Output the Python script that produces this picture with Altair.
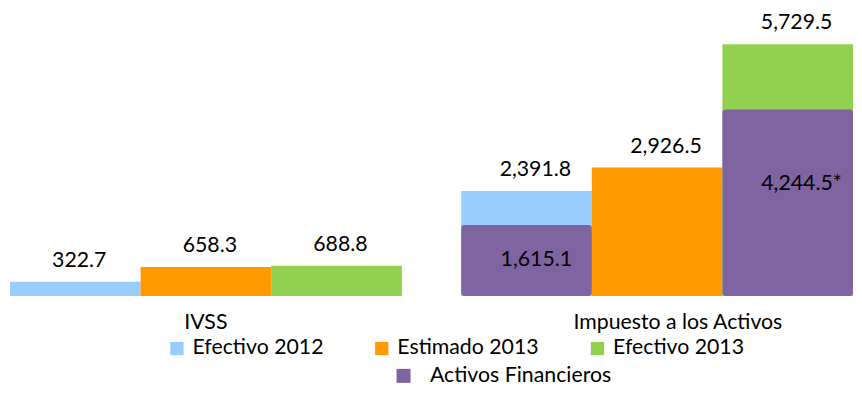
import altair as alt
import pandas as pd

categorias = ["IVSS", "Impuesto a los Activos"]
series = ["Efectivo 2012", "Estimado 2013", "Efectivo 2013"]
valores_ivss = [322.7, 658.3, 688.8]
valores_impuesto = [2391.8, 2926.5, 5729.5]
activos_nombre = "Activos Financieros"
activos_slots = ["Efectivo 2012", "Efectivo 2013"]
activos_valores = [1615.1, 4244.5]
activos_etiquetas = ["1,615.1", "4,244.5*"]
colores = ["#99CCFF", "#FF9900", "#92D050"]
color_activos = "#8064A2"

FONT = "Lato"
FS = 21.5

rows = []
for cat, vals in zip(categorias, [valores_ivss, valores_impuesto]):
    for s, v in zip(series, vals):
        rows.append({"categoria": cat, "slot": s, "serie": s, "valor": v, "etiqueta": f"{v:,.1f}"})
df_main = pd.DataFrame(rows)

df_act = pd.DataFrame({
    "categoria": ["Impuesto a los Activos"] * len(activos_valores),
    "slot": activos_slots,
    "grupo": [activos_nombre] * len(activos_valores),
    "valor": activos_valores,
    "etiqueta": activos_etiquetas,
})
df_cat = pd.DataFrame({"categoria": categorias})

x_enc = alt.X("categoria:N", sort=categorias, axis=None,
              scale=alt.Scale(domain=categorias, paddingInner=0.1316, paddingOuter=0))
xo_enc = alt.XOffset("slot:N", sort=series, scale=alt.Scale(domain=series, paddingInner=0, paddingOuter=0))
y_scale = alt.Scale(domain=[0, 6510])

bars = alt.Chart(df_main).mark_bar().encode(
    x=x_enc, xOffset=xo_enc,
    y=alt.Y("valor:Q", scale=y_scale, axis=None, stack=None),
    color=alt.Color("serie:N", scale=alt.Scale(domain=series, range=colores),
                    legend=alt.Legend(orient="none", legendX=158, legendY=331, direction="horizontal",
                                      title=None, symbolType="square", symbolSize=180,
                                      symbolStrokeWidth=0, labelFont=FONT, labelFontSize=FS,
                                      labelColor="black", labelOffset=5, columnPadding=48,
                                      labelLimit=400)),
)

bars_act = alt.Chart(df_act).mark_bar(cornerRadius=3).encode(
    x=x_enc, xOffset=xo_enc,
    y=alt.Y("valor:Q", scale=y_scale, axis=None, stack=None),
    color=alt.Color("grupo:N", scale=alt.Scale(domain=[activos_nombre], range=[color_activos]),
                    legend=alt.Legend(orient="none", legendX=387, legendY=359, direction="horizontal",
                                      title=None, symbolType="square", symbolSize=200,
                                      symbolStrokeWidth=0, labelFont=FONT, labelFontSize=FS,
                                      labelColor="black", labelOffset=16, labelLimit=400)),
)


def top_labels(cat, dx):
    return alt.Chart(df_main).transform_filter(alt.datum.categoria == cat).mark_text(
        dx=dx, dy=-15, baseline="alphabetic", font=FONT, fontSize=FS, color="black").encode(
        x=x_enc, xOffset=xo_enc,
        y=alt.Y("valor:Q", scale=y_scale, axis=None),
        text="etiqueta:N",
    )


def act_label(slot, dx, dy):
    return alt.Chart(df_act).transform_filter(alt.datum.slot == slot).transform_calculate(
        mitad="datum.valor / 2").mark_text(dx=dx, dy=dy, baseline="middle", font=FONT, fontSize=FS,
                                           color="black").encode(
        x=x_enc, xOffset=xo_enc,
        y=alt.Y("mitad:Q", scale=y_scale, axis=None),
        text="etiqueta:N",
    )


def cat_label(cat, dx):
    return alt.Chart(df_cat).transform_filter(alt.datum.categoria == cat).mark_text(
        dx=dx, baseline="alphabetic", font=FONT, fontSize=FS, color="black").encode(
        x=x_enc, y=alt.value(322), text="categoria:N")


chart = alt.layer(
    bars, bars_act,
    top_labels(categorias[0], 4), top_labels(categorias[1], 9),
    act_label(activos_slots[0], 10, 0), act_label(activos_slots[1], 14, -19),
    cat_label(categorias[0], 0), cat_label(categorias[1], 21),
).resolve_scale(color="independent").resolve_legend(color="independent").properties(
    width=852, height=289,
    padding={"left": 2, "top": 0, "right": 0, "bottom": 0},
).configure(font=FONT).configure_view(stroke=None)

chart.save("out.html", embed_options={"renderer": "svg", "actions": False})
